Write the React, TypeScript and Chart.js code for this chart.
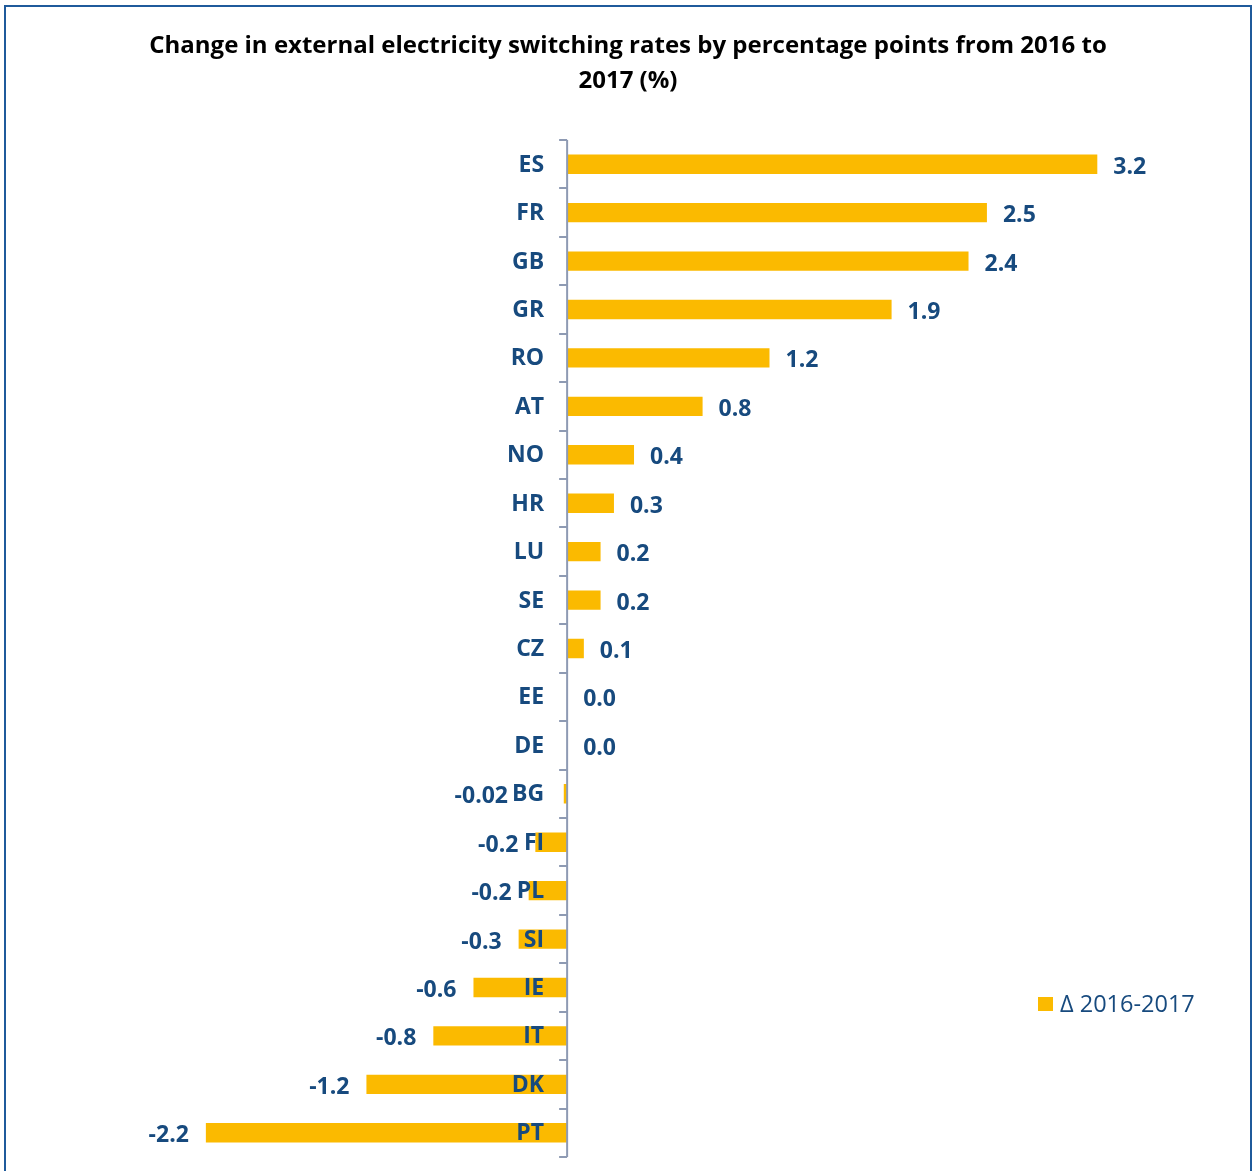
import React, { useEffect, useRef } from "react";
import { Chart, registerables } from "chart.js";

Chart.register(...registerables);

const categories = ["ES", "FR", "GB", "GR", "RO", "AT", "NO", "HR", "LU", "SE", "CZ", "EE", "DE", "BG", "FI", "PL", "SI", "IE", "IT", "DK", "PT"];
const values = [3.17, 2.51, 2.40, 1.94, 1.21, 0.81, 0.40, 0.28, 0.20, 0.20, 0.10, 0.0, 0.0, -0.02, -0.19, -0.23, -0.29, -0.56, -0.80, -1.20, -2.16];
const valueLabels = ["3.2", "2.5", "2.4", "1.9", "1.2", "0.8", "0.4", "0.3", "0.2", "0.2", "0.1", "0.0", "0.0", "-0.02", "-0.2", "-0.2", "-0.3", "-0.6", "-0.8", "-1.2", "-2.2"];
const seriesName = "Δ 2016-2017";
const titleLines = ["Change in external electricity switching rates by percentage points from 2016 to", "2017 (%)"];

const BAR = "#FBBA00";
const TEXT = "#174A7E";
const AXIS = "#8E9AB3";
const FRAME = "#1F5A9B";
const FONT = "'Open Sans', 'Noto Sans', sans-serif";

export default function App() {
  const ref = useRef<HTMLCanvasElement>(null);

  useEffect(() => {
    if (!ref.current) return;
    const decor = {
      id: "decor",
      beforeDraw(chart: any) {
        const ctx = chart.ctx;
        ctx.save();
        ctx.fillStyle = "#ffffff";
        ctx.fillRect(0, 0, chart.width, chart.height);
        ctx.strokeStyle = FRAME;
        ctx.lineWidth = 2;
        ctx.strokeRect(5, 6, 1246, 1200);
        ctx.restore();
      },
      afterDatasetsDraw(chart: any) {
        const ctx = chart.ctx;
        const xs = chart.scales.x;
        const ys = chart.scales.y;
        const x0 = xs.getPixelForValue(0);
        ctx.save();
        ctx.strokeStyle = AXIS;
        ctx.lineWidth = 2;
        ctx.beginPath();
        ctx.moveTo(x0, ys.top);
        ctx.lineTo(x0, ys.bottom);
        for (let i = 0; i <= categories.length; i++) {
          const y = Math.round(ys.getPixelForValue(i - 0.5));
          ctx.moveTo(x0 - 8, y);
          ctx.lineTo(x0, y);
        }
        ctx.stroke();

        ctx.font = `bold 23px ${FONT}`;
        ctx.fillStyle = TEXT;
        ctx.textBaseline = "middle";
        categories.forEach((c, i) => {
          const y = ys.getPixelForValue(i);
          ctx.textAlign = "right";
          const catW = ctx.measureText(c).width;
          ctx.fillText(c, x0 - 23, y + 1);
          const v = values[i];
          const xe = xs.getPixelForValue(v);
          if (v >= 0) {
            ctx.textAlign = "left";
            ctx.fillText(valueLabels[i], xe + 16, y + 3);
          } else {
            ctx.textAlign = "right";
            const xr = Math.min(xe - 17, x0 - 23 - catW - 4);
            ctx.fillText(valueLabels[i], xr, y + 3);
          }
        });

        ctx.fillStyle = "#000000";
        ctx.textAlign = "center";
        ctx.font = `bold 24px ${FONT}`;
        ctx.fillText(titleLines[0], 628, 46);
        ctx.fillText(titleLines[1], 628, 81);

        ctx.fillStyle = BAR;
        ctx.fillRect(1038, 997, 15, 14);
        ctx.fillStyle = TEXT;
        ctx.textAlign = "left";
        ctx.font = `23.5px ${FONT}`;
        ctx.fillText(seriesName, 1060, 1005);
        ctx.restore();
      },
    };

    const chart = new Chart(ref.current, {
      type: "bar",
      data: {
        labels: categories,
        datasets: [
          {
            label: seriesName,
            data: values,
            backgroundColor: BAR,
            barPercentage: 0.4,
            categoryPercentage: 1,
          },
        ],
      },
      options: {
        indexAxis: "y",
        responsive: false,
        animation: false,
        layout: { padding: { left: 149, right: 100.5, top: 140, bottom: 14 } },
        scales: {
          x: { display: false, min: -2.5, max: 3.5 },
          y: { display: false },
        },
        plugins: {
          legend: { display: false },
          tooltip: { enabled: false },
          title: { display: false },
        },
      },
      plugins: [decor],
    });
    return () => chart.destroy();
  }, []);

  return (
    <div style={{ position: "absolute", left: 0, top: 0, width: 1253, height: 1171, overflow: "hidden", background: "#fff" }}>
      <canvas ref={ref} width={1253} height={1171} style={{ display: "block" }} />
    </div>
  );
}
